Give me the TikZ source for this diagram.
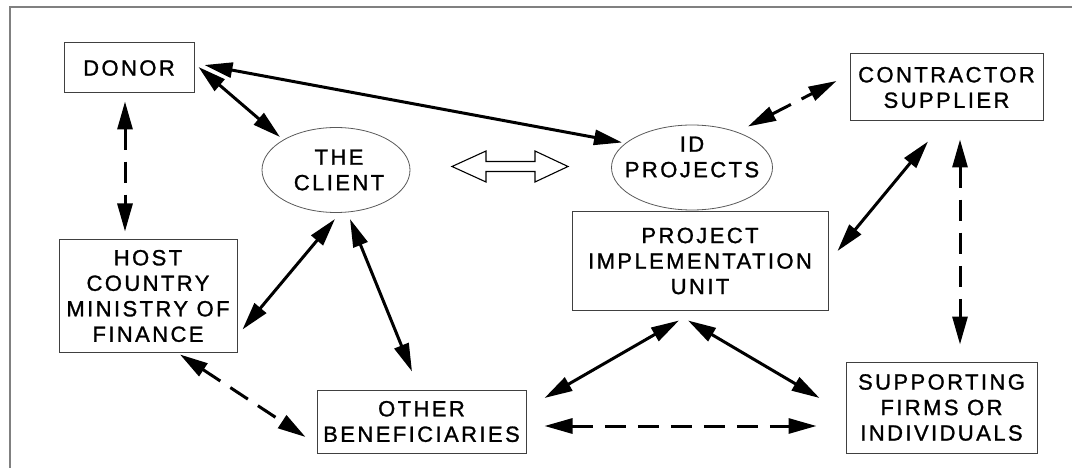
\documentclass[tikz,border=0pt]{standalone}
\usepackage{fontspec}
\setmainfont{Liberation Sans}[LetterSpace=11, FakeBold=1.2]
\usetikzlibrary{arrows.meta,shapes.geometric,calc}

\tikzset{
  box/.style={draw=black!75, line width=1pt, inner sep=0pt, align=center},
  oval/.style={ellipse, draw=black!65, line width=0.8pt, inner sep=0pt, align=center},
  caption/.style={inner sep=0pt, align=center},
  link/.style={line width=3pt,
    {Triangle[length=28pt,width=15pt]}-{Triangle[length=28pt,width=15pt]}},
  dlink/.style={link, dash pattern=on 21pt off 12pt},
  frame/.style={draw=black!50, line width=1.3pt},
}

\begin{document}
\begin{tikzpicture}[x=1pt, y=-1pt,
  every node/.style={font=\fontsize{22}{25.5}\selectfont}]
  \useasboundingbox (0,0) rectangle (1072,468);

  % outer frame (only the top and left sides show)
  \draw[frame] (10,468) -- (10,7) -- (1072,7);

  % parties
  \node[box, minimum width=130pt, minimum height=50pt] (donor) at (129,68) {DONOR};
  \node[oval, minimum width=148pt, minimum height=85pt] (client) at (336,170) {};
  \node[caption] (client-text) at (339,170) {THE\\CLIENT};
  \node[oval, minimum width=161pt, minimum height=85pt] (idp) at (692,167.5) {};
  \node[caption] (idp-text) at (692,157) {ID\\PROJECTS};
  \node[box, minimum width=193pt, minimum height=67pt] (contractor) at (946.5,87.5) {CONTRACTOR\\SUPPLIER};
  \node[box, minimum width=256pt, minimum height=98pt] (piu) at (700,261) {PROJECT\\IMPLEMENTATION\\UNIT};
  \node[box, minimum width=178pt, minimum height=112pt] (host) at (148,296) {HOST\\COUNTRY\\MINISTRY OF\\FINANCE};
  \node[box, minimum width=209pt, minimum height=63pt] (other) at (421.5,421.5) {OTHER\\BENEFICIARIES};
  \node[box, minimum width=191pt, minimum height=91pt] (supp) at (941.5,407.5) {SUPPORTING\\FIRMS OR\\INDIVIDUALS};

  % hollow two-way arrow between the client and the projects
  \coordinate (mid) at (510,166.5);
  \draw[line width=1.1pt, fill=white]
    ($(mid)+(-58,0)$) -- ++(34,-15.5) -- ++(0,10.5) -- ++(49,0) -- ++(0,-10.5)
    -- ++(33,15.5) -- ++(-33,15.5) -- ++(0,-10.5) -- ++(-49,0) -- ++(0,10.5) -- cycle;

  % solid links
  \draw[link] ($(donor.east)+(4,-1)$) -- ($(client.center)+(-56,-33)$);
  \draw[link] ($(donor.east)+(10,-3)$) -- ($(idp.center)+(-70,-25)$);
  \draw[link] ($(client.center)+(-1,49)$) -- ($(host.south east)+(5,-23)$);
  \draw[link] ($(client.center)+(14,49)$) -- ($(other.north)+(-9.5,-18)$);
  \draw[link] ($(piu.east)+(9,-10)$) -- ($(contractor.south)+(-18.5,20)$);
  \draw[link] ($(piu.south)+(-21,10)$) -- ($(other.east)+(18,-23.5)$);
  \draw[link] ($(piu.south)+(-12,10)$) -- ($(supp.west)+(-26,-9.5)$);

  % dashed links
  \draw[dlink] ($(donor.south)+(-4,8)$) -- ($(host.north)+(-23,-8)$);
  \draw[dlink] ($(host.south)+(32,2)$) -- ($(other.west)+(-11,15.5)$);
  \draw[dlink] ($(idp.center)+(56,-41)$) -- ($(contractor.west)+(-13,-6.5)$);
  \draw[dlink] ($(contractor.south)+(13.5,18)$) -- ($(supp.north)+(18.5,-17)$);
  \draw[dlink] ($(other.east)+(18,4.5)$) -- ($(supp.west)+(-29,18.5)$);
\end{tikzpicture}
\end{document}
